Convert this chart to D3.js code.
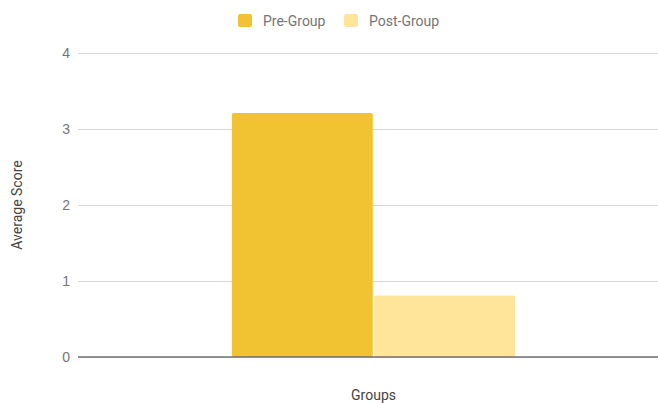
<!DOCTYPE html>
<html>
<head>
<meta charset="utf-8">
<script src="https://cdn.jsdelivr.net/npm/d3@7"></script>
<style>
  body { margin: 0; background: #fff; }
  svg { font-family: Roboto, Arial, sans-serif; }
  .tick text { fill: #757575; font-size: 14px; }
</style>
</head>
<body>
<div id="chart"></div>
<script>
const groups = ["Groups"]
const series = ["Pre-Group", "Post-Group"]
const values = [3.21, 0.81]
const colors = ["#f1c232", "#ffe599"]
const yTicks = [0, 1, 2, 3, 4]

const width = 658, height = 403
const margin = {top: 53, right: -11, bottom: 46, left: 78}

let svg = d3.select('#chart').append('svg')
  .attr('width', width)
  .attr('height', height)

let x0 = d3.scaleBand()
  .domain(groups)
  .range([margin.left, width - margin.right])
  .padding(0.352)

let x1 = d3.scaleBand()
  .domain(series)
  .range([0, x0.bandwidth()])
  .paddingInner(0.01)

let y = d3.scaleLinear()
  .domain([0, 4])
  .range([height - margin.bottom, margin.top])

// gridlines + labels
let yAxis = svg.append('g')
  .attr('transform', 'translate(' + margin.left + ',0)')
  .call(d3.axisLeft(y).tickValues(yTicks).tickFormat(d3.format('d'))
    .tickSize(-(width - margin.left)).tickPadding(8))
yAxis.select('.domain').remove()
yAxis.selectAll('.tick line').attr('stroke', '#d9d9d9')
yAxis.selectAll('.tick text').attr('dy', '0.35em')

// bars
svg.append('g').selectAll('rect')
  .data(series.map((s, i) => ({group: groups[0], key: s, value: values[i], color: colors[i]})))
  .enter()
  .append('rect')
  .attr('x', d => x0(d.group) + x1(d.key))
  .attr('y', d => y(d.value))
  .attr('width', x1.bandwidth())
  .attr('height', d => y(0) - y(d.value))
  .attr('rx', 2)
  .attr('fill', d => d.color)

// baseline
svg.append('line')
  .attr('x1', margin.left).attr('x2', width)
  .attr('y1', y(0)).attr('y2', y(0))
  .attr('stroke', '#707070')
  .attr('stroke-width', 1.5)

// axis titles
svg.append('text')
  .attr('transform', 'translate(22,' + ((y(0) + y(4)) / 2) + ') rotate(-90)')
  .attr('text-anchor', 'middle')
  .attr('fill', '#444')
  .style('font-size', '14px')
  .text('Average Score')

svg.append('text')
  .attr('x', x0(groups[0]) + x0.bandwidth() / 2)
  .attr('y', 400)
  .attr('text-anchor', 'middle')
  .attr('fill', '#444')
  .style('font-size', '14px')
  .text('Groups')

// legend
let legend = svg.append('g')
let legX = [238, 344]
series.forEach((s, i) => {
  legend.append('rect')
    .attr('x', legX[i]).attr('y', 14)
    .attr('width', 14).attr('height', 13)
    .attr('rx', 2)
    .attr('fill', colors[i])
  legend.append('text')
    .attr('x', legX[i] + 25).attr('y', 26)
    .attr('fill', '#757575')
    .style('font-size', '14px')
    .text(s)
})
</script>
</body>
</html>
